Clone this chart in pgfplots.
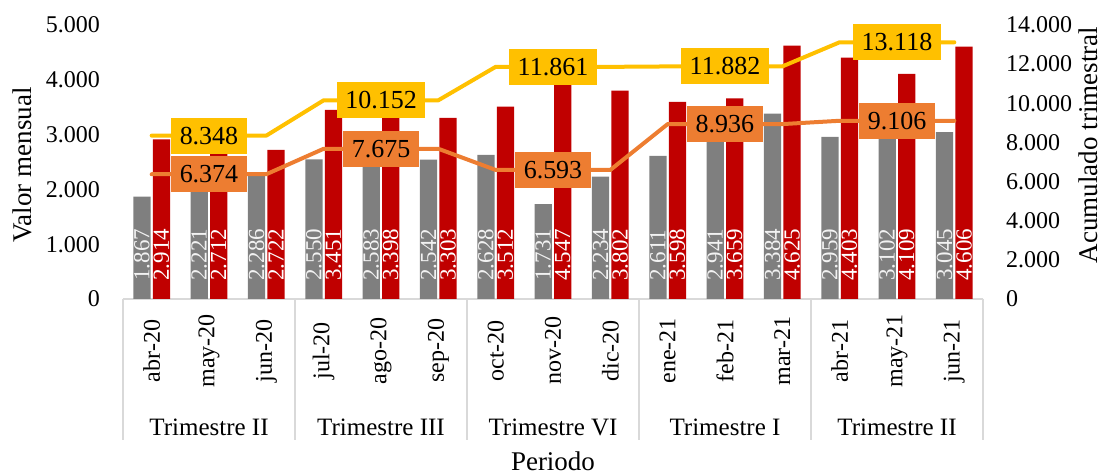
\documentclass[border=0pt]{standalone}
\usepackage{fontspec}
\setmainfont{Liberation Serif}
\usepackage{pgfplots}
\pgfplotsset{compat=1.18}

\definecolor{barGris}{HTML}{7F7F7F}
\definecolor{barRojo}{HTML}{C00000}
\definecolor{lineaAmarilla}{HTML}{FFC000}
\definecolor{lineaNaranja}{HTML}{ED7D31}
\definecolor{ejeGris}{HTML}{D9D9D9}
\definecolor{textoGris}{HTML}{F2F2F2}

\pgfkeys{/pgf/number format/.cd, 1000 sep={.}, assume math mode=true}

\newcommand\fuenteEje{\fontsize{13.5}{16}\selectfont}

\pgfplotsset{
  base/.style={
    scale only axis, width=430pt, height=137pt,
    at={(0,0)}, anchor=south west,
    xmin=-0.5, xmax=14.5, ymin=0,
    scaled y ticks=false,
    major tick length=0pt,
    clip=false,
    /pgf/number format/1000 sep={.},
    /pgf/number format/assume math mode=true,
    tick label style={font=\fontsize{12}{14}\selectfont},
    yticklabel shift=8pt,
  },
  etiqbarra/.style={
    draw=none, fill=none, point meta=explicit,
    nodes near coords={\hspace*{9pt}\pgfmathprintnumber{\pgfplotspointmeta}},
    every node near coord/.append style={
      font=\fontsize{11.5}{12}\selectfont, text=#1, inner sep=0pt,
      rotate=90, anchor=west},
  },
  etiqlinea/.style={
    draw=none, mark=none, nodes near coords,
    every node near coord/.append style={
      font=\fontsize{13}{15}\selectfont, text=black, fill=#1,
      inner xsep=4.2pt, inner ysep=0pt, minimum height=18pt, anchor=center},
  },
}

\begin{document}
\begin{tikzpicture}
\path[use as bounding box] (-61.5pt,-87.5pt) rectangle (496.5pt,149.5pt);

% barras mensuales (eje izquierdo)
\begin{axis}[base,
  ybar, bar width=0.3,
  ymax=5000, ytick={0,1000,...,5000},
  axis y line*=left, axis x line*=bottom,
  y axis line style={draw=none},
  x axis line style={draw=ejeGris, line width=0.75pt, -},
  xtick={0,...,14},
  xticklabels={abr-20,may-20,jun-20,jul-20,ago-20,sep-20,oct-20,nov-20,dic-20,ene-21,feb-21,mar-21,abr-21,may-21,jun-21},
  xticklabel style={yshift=-26pt, rotate=90, anchor=center},
  ylabel={Valor mensual},
  every axis y label/.style={at={(axis description cs:-0.1174,0.489)}, rotate=90, anchor=center, font=\fuenteEje},
  xlabel={Periodo},
  every axis x label/.style={at={(axis description cs:0.5,-0.592)}, anchor=center, font=\fuenteEje},
]
\addplot[fill=barGris, draw=none, bar shift=-0.17] coordinates {
  (0,1867) (1,2221) (2,2286) (3,2550) (4,2583) (5,2542) (6,2628) (7,1731)
  (8,2234) (9,2611) (10,2941) (11,3384) (12,2959) (13,3102) (14,3045)};
\addplot[fill=barRojo, draw=none, bar shift=0.17] coordinates {
  (0,2914) (1,2712) (2,2722) (3,3451) (4,3398) (5,3303) (6,3512) (7,4547)
  (8,3802) (9,3598) (10,3659) (11,4625) (12,4403) (13,4109) (14,4606)};
% etiquetas en la base de cada barra
\addplot[etiqbarra=textoGris, bar shift=-0.17] coordinates {
  (0,0)[1867] (1,0)[2221] (2,0)[2286] (3,0)[2550] (4,0)[2583] (5,0)[2542] (6,0)[2628] (7,0)[1731]
  (8,0)[2234] (9,0)[2611] (10,0)[2941] (11,0)[3384] (12,0)[2959] (13,0)[3102] (14,0)[3045]};
\addplot[etiqbarra=white, bar shift=0.17] coordinates {
  (0,0)[2914] (1,0)[2712] (2,0)[2722] (3,0)[3451] (4,0)[3398] (5,0)[3303] (6,0)[3512] (7,0)[4547]
  (8,0)[3802] (9,0)[3598] (10,0)[3659] (11,0)[4625] (12,0)[4403] (13,0)[4109] (14,0)[4606]};

% separadores y nombres de trimestre
\pgfplotsinvokeforeach{-0.5,2.5,5.5,8.5,11.5,14.5}{
  \draw[ejeGris, line width=0.75pt] (axis cs:#1,0) -- ++(0pt,-70.5pt);
}
\node[font=\fontsize{12.5}{15}\selectfont, yshift=-64pt] at (axis cs:1,0) {Trimestre II};
\node[font=\fontsize{12.5}{15}\selectfont, yshift=-64pt] at (axis cs:4,0) {Trimestre III};
\node[font=\fontsize{12.5}{15}\selectfont, yshift=-64pt] at (axis cs:7,0) {Trimestre VI};
\node[font=\fontsize{12.5}{15}\selectfont, yshift=-64pt] at (axis cs:10,0) {Trimestre I};
\node[font=\fontsize{12.5}{15}\selectfont, yshift=-64pt] at (axis cs:13,0) {Trimestre II};
\end{axis}

% acumulado trimestral (eje derecho)
\begin{axis}[base,
  ymax=14000, ytick={0,2000,...,14000},
  axis y line*=right, axis x line=none,
  y axis line style={draw=none},
  ylabel={Acumulado trimestral},
  every axis y label/.style={at={(axis description cs:1.122,0.562)}, rotate=90, anchor=center, font=\fuenteEje},
]
\addplot[lineaAmarilla, line width=2pt, line cap=round, line join=round, mark=none] coordinates {
  (0,8348) (1,8348) (2,8348) (3,10152) (4,10152) (5,10152) (6,11861) (7,11861)
  (8,11861) (9,11882) (10,11882) (11,11882) (12,13118) (13,13118) (14,13118)};
\addplot[lineaNaranja, line width=2pt, line cap=round, line join=round, mark=none] coordinates {
  (0,6374) (1,6374) (2,6374) (3,7675) (4,7675) (5,7675) (6,6593) (7,6593)
  (8,6593) (9,8936) (10,8936) (11,8936) (12,9106) (13,9106) (14,9106)};
\addplot[etiqlinea=lineaAmarilla] coordinates {
  (1,8348) (4,10152) (7,11861) (10,11882) (13,13118)};
\addplot[etiqlinea=lineaNaranja] coordinates {
  (1,6374) (4,7675) (7,6593) (10,8936) (13,9106)};
\end{axis}
\end{tikzpicture}
\end{document}
